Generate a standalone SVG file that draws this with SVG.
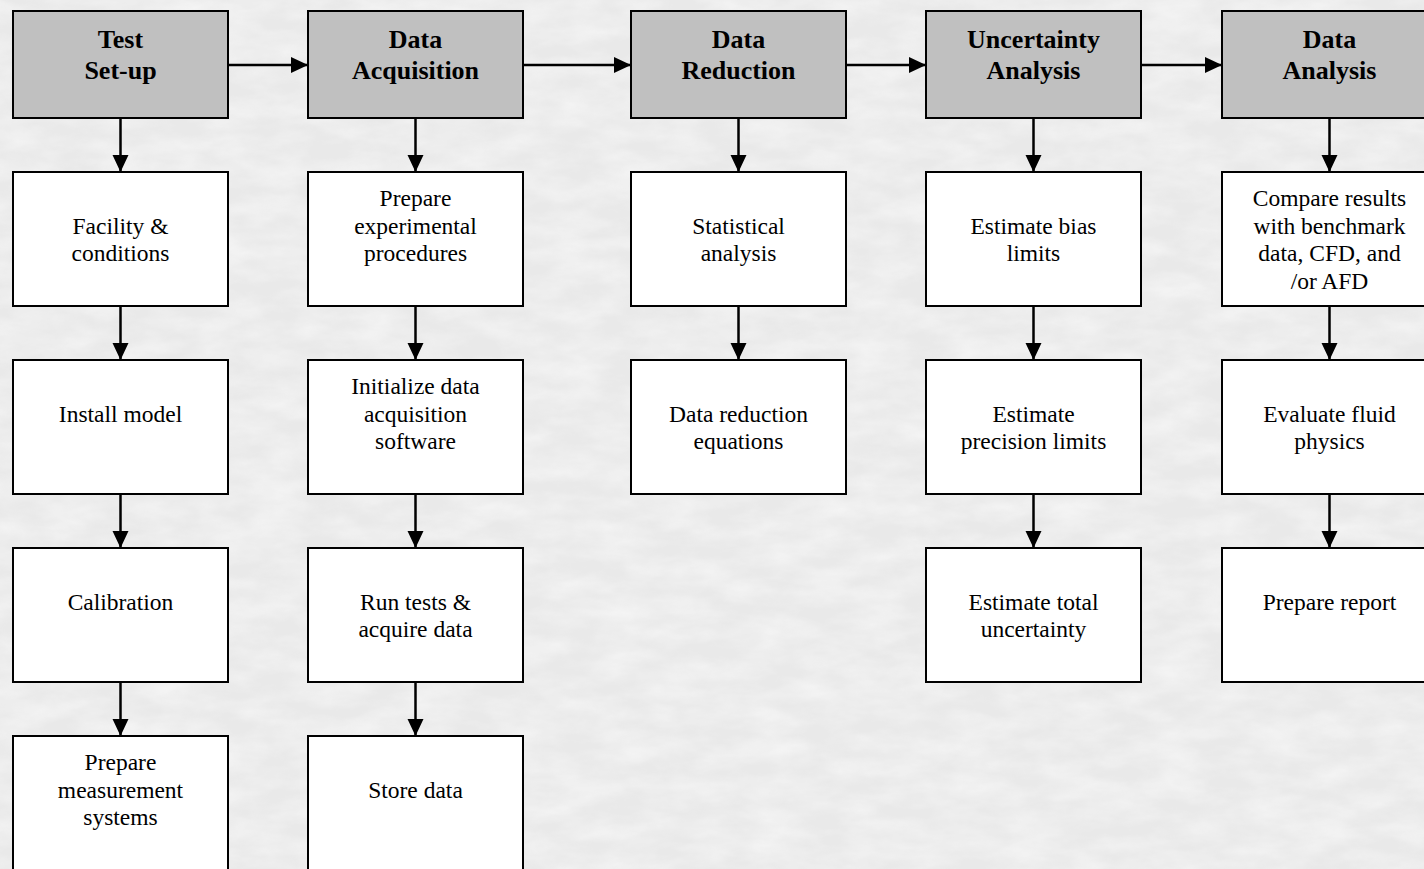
<svg xmlns="http://www.w3.org/2000/svg" width="1424" height="869" viewBox="0 0 1424 869">
<defs>
<filter id="tex" x="0" y="0" width="100%" height="100%">
<feTurbulence type="fractalNoise" baseFrequency="0.02 0.05" numOctaves="4" seed="7" result="n"/>
<feColorMatrix in="n" type="matrix" values="0 0 0 0 1  0 0 0 0 1  0 0 0 0 1  0 0 0 -1.4 1.0"/>
</filter>
<marker id="ah" markerUnits="userSpaceOnUse" markerWidth="18" markerHeight="17" refX="17" refY="8" orient="auto">
<path d="M0,0 L17,8 L0,16 Z" fill="#000"/>
</marker>
<style>
.hdr{fill:#c0c0c0;stroke:#000;stroke-width:2}
.box{fill:#fff;stroke:#000;stroke-width:2}
.ht{font-family:"Liberation Serif","Times New Roman",serif;font-weight:bold;font-size:26px;fill:#000;text-anchor:middle}
.bt{font-family:"Liberation Serif","Times New Roman",serif;font-size:23.5px;fill:#000;text-anchor:middle}
.c{stroke:#000;stroke-width:2.5;fill:none;marker-end:url(#ah)}
</style>
</defs>
<rect width="1424" height="869" fill="#e9e9e9"/>
<rect width="1424" height="869" fill="#f7f7f7" filter="url(#tex)" opacity="0.55"/>

<g id="connectors">
<line class="c" x1="228" y1="65" x2="308" y2="65"/>
<line class="c" x1="523" y1="65" x2="631" y2="65"/>
<line class="c" x1="846" y1="65" x2="926" y2="65"/>
<line class="c" x1="1141" y1="65" x2="1222" y2="65"/>

<line class="c" x1="120.5" y1="118" x2="120.5" y2="172"/>
<line class="c" x1="120.5" y1="306" x2="120.5" y2="360"/>
<line class="c" x1="120.5" y1="494" x2="120.5" y2="548"/>
<line class="c" x1="120.5" y1="682" x2="120.5" y2="736"/>

<line class="c" x1="415.5" y1="118" x2="415.5" y2="172"/>
<line class="c" x1="415.5" y1="306" x2="415.5" y2="360"/>
<line class="c" x1="415.5" y1="494" x2="415.5" y2="548"/>
<line class="c" x1="415.5" y1="682" x2="415.5" y2="736"/>

<line class="c" x1="738.5" y1="118" x2="738.5" y2="172"/>
<line class="c" x1="738.5" y1="306" x2="738.5" y2="360"/>

<line class="c" x1="1033.5" y1="118" x2="1033.5" y2="172"/>
<line class="c" x1="1033.5" y1="306" x2="1033.5" y2="360"/>
<line class="c" x1="1033.5" y1="494" x2="1033.5" y2="548"/>

<line class="c" x1="1329.5" y1="118" x2="1329.5" y2="172"/>
<line class="c" x1="1329.5" y1="306" x2="1329.5" y2="360"/>
<line class="c" x1="1329.5" y1="494" x2="1329.5" y2="548"/>
</g>

<g id="test-setup"><rect class="hdr" x="13" y="11" width="215" height="107"/><text class="ht" x="120.5" y="48">Test</text><text class="ht" x="120.5" y="79">Set-up</text></g>
<g id="data-acquisition"><rect class="hdr" x="308" y="11" width="215" height="107"/><text class="ht" x="415.5" y="48">Data</text><text class="ht" x="415.5" y="79">Acquisition</text></g>
<g id="data-reduction"><rect class="hdr" x="631" y="11" width="215" height="107"/><text class="ht" x="738.5" y="48">Data</text><text class="ht" x="738.5" y="79">Reduction</text></g>
<g id="uncertainty-analysis"><rect class="hdr" x="926" y="11" width="215" height="107"/><text class="ht" x="1033.5" y="48">Uncertainty</text><text class="ht" x="1033.5" y="79">Analysis</text></g>
<g id="data-analysis"><rect class="hdr" x="1222" y="11" width="215" height="107"/><text class="ht" x="1329.5" y="48">Data</text><text class="ht" x="1329.5" y="79">Analysis</text></g>

<g id="facility"><rect class="box" x="13" y="172" width="215" height="134"/><text class="bt" x="120.5" y="233.5">Facility &amp;</text><text class="bt" x="120.5" y="261">conditions</text></g>
<g id="install-model"><rect class="box" x="13" y="360" width="215" height="134"/><text class="bt" x="120.5" y="421.5">Install model</text></g>
<g id="calibration"><rect class="box" x="13" y="548" width="215" height="134"/><text class="bt" x="120.5" y="609.5">Calibration</text></g>
<g id="prepare-measurement"><rect class="box" x="13" y="736" width="215" height="134"/><text class="bt" x="120.5" y="770">Prepare</text><text class="bt" x="120.5" y="797.5">measurement</text><text class="bt" x="120.5" y="825">systems</text></g>

<g id="prepare-procedures"><rect class="box" x="308" y="172" width="215" height="134"/><text class="bt" x="415.5" y="206">Prepare</text><text class="bt" x="415.5" y="233.5">experimental</text><text class="bt" x="415.5" y="261">procedures</text></g>
<g id="initialize-daq"><rect class="box" x="308" y="360" width="215" height="134"/><text class="bt" x="415.5" y="394">Initialize data</text><text class="bt" x="415.5" y="421.5">acquisition</text><text class="bt" x="415.5" y="449">software</text></g>
<g id="run-tests"><rect class="box" x="308" y="548" width="215" height="134"/><text class="bt" x="415.5" y="609.5">Run tests &amp;</text><text class="bt" x="415.5" y="637">acquire data</text></g>
<g id="store-data"><rect class="box" x="308" y="736" width="215" height="134"/><text class="bt" x="415.5" y="797.5">Store data</text></g>

<g id="statistical-analysis"><rect class="box" x="631" y="172" width="215" height="134"/><text class="bt" x="738.5" y="233.5">Statistical</text><text class="bt" x="738.5" y="261">analysis</text></g>
<g id="reduction-equations"><rect class="box" x="631" y="360" width="215" height="134"/><text class="bt" x="738.5" y="421.5">Data reduction</text><text class="bt" x="738.5" y="449">equations</text></g>

<g id="bias-limits"><rect class="box" x="926" y="172" width="215" height="134"/><text class="bt" x="1033.5" y="233.5">Estimate bias</text><text class="bt" x="1033.5" y="261">limits</text></g>
<g id="precision-limits"><rect class="box" x="926" y="360" width="215" height="134"/><text class="bt" x="1033.5" y="421.5">Estimate</text><text class="bt" x="1033.5" y="449">precision limits</text></g>
<g id="total-uncertainty"><rect class="box" x="926" y="548" width="215" height="134"/><text class="bt" x="1033.5" y="609.5">Estimate total</text><text class="bt" x="1033.5" y="637">uncertainty</text></g>

<g id="compare-results"><rect class="box" x="1222" y="172" width="215" height="134"/><text class="bt" x="1329.5" y="206">Compare results</text><text class="bt" x="1329.5" y="233.5">with benchmark</text><text class="bt" x="1329.5" y="261">data, CFD, and</text><text class="bt" x="1329.5" y="288.5">/or AFD</text></g>
<g id="fluid-physics"><rect class="box" x="1222" y="360" width="215" height="134"/><text class="bt" x="1329.5" y="421.5">Evaluate fluid</text><text class="bt" x="1329.5" y="449">physics</text></g>
<g id="prepare-report"><rect class="box" x="1222" y="548" width="215" height="134"/><text class="bt" x="1329.5" y="609.5">Prepare report</text></g>
</svg>
